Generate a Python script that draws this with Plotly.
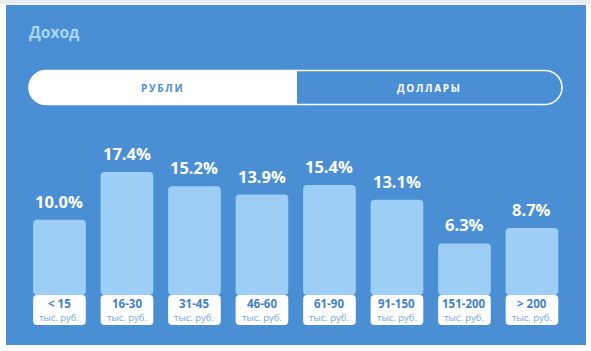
import plotly.graph_objects as go

# ---- data ----
categories = ["< 15", "16-30", "31-45", "46-60", "61-90", "91-150", "151-200", "> 200"]
unit_label = "тыс. руб."
values = [10.0, 17.4, 15.2, 13.9, 15.4, 13.1, 6.3, 8.7]
title_text = "Доход"
toggle_labels = ["РУБЛИ", "ДОЛЛАРЫ"]

# ---- style ----
W, H = 591, 351
PANEL = "#4a8fd3"
BAR = "#9dcff6"
LABEL_BOLD = "#3f82c8"
LABEL_LIGHT = "#72a9de"
TITLE_C = "#a9d5f7"
FONT = "Open Sans"

bar_base = -1.71      # where light bar meets white label
label_depth = 4.67    # depth of white label box (data units)

xs = list(range(len(categories)))

fig = go.Figure()

# light blue bars
fig.add_trace(go.Bar(
    x=xs, y=[v - bar_base for v in values], base=[bar_base] * len(values),
    marker=dict(color=BAR, line=dict(width=0), cornerradius=4),
    width=0.78, hoverinfo="skip", showlegend=False,
))
# white label boxes (negative direction so the rounded end is at the bottom)
fig.add_trace(go.Bar(
    x=xs, y=[-label_depth] * len(values), base=[bar_base] * len(values),
    marker=dict(color="white", line=dict(width=0), cornerradius=4),
    width=0.78, hoverinfo="skip", showlegend=False,
))

def esc(s):
    return s.replace("&", "&amp;").replace("<", "&lt;").replace(">", "&gt;")

annotations = []
mid = bar_base - label_depth / 2
for x, c, v in zip(xs, categories, values):
    annotations.append(dict(
        x=x, y=v, xref="x", yref="y", text=f"<b>{v:.1f}%</b>", showarrow=False,
        yanchor="bottom", yshift=5,
        font=dict(family=FONT, size=16.5, color="white", weight=800),
    ))
    annotations.append(dict(
        x=x, y=mid, xref="x", yref="y", text=f"<b>{esc(c)}</b>",
        showarrow=False, yanchor="middle", xanchor="center", yshift=6.5,
        font=dict(family=FONT, size=11.5, color=LABEL_BOLD, weight=800),
    ))
    annotations.append(dict(
        x=x, y=mid, xref="x", yref="y", text=unit_label,
        showarrow=False, yanchor="middle", xanchor="center", yshift=-7,
        font=dict(family=FONT, size=9.5, color=LABEL_LIGHT),
    ))

def px(x):
    return x / W

def py(y):
    return 1 - y / H

# title
annotations.append(dict(
    x=px(27), y=py(32), xref="paper", yref="paper", xanchor="left", yanchor="middle",
    text=f"<b>{title_text}</b>", showarrow=False,
    font=dict(family=FONT, size=15.5, color=TITLE_C, weight=800),
))

def spaced(s):
    return "\u2009".join(s)

annotations.append(dict(
    x=px(161.5), y=py(87.5), xref="paper", yref="paper", xanchor="center", yanchor="middle",
    text=f"<b>{spaced(toggle_labels[0])}</b>", showarrow=False,
    font=dict(family=FONT, size=10, color=PANEL, weight=800),
))
annotations.append(dict(
    x=px(428.5), y=py(87.5), xref="paper", yref="paper", xanchor="center", yanchor="middle",
    text=f"<b>{spaced(toggle_labels[1])}</b>", showarrow=False,
    font=dict(family=FONT, size=10, color="white", weight=800),
))

# shapes in pixel coordinates via hidden overlay axes x2/y2
K = 0.5523
def pill_left(x0, x1, y0, y1):
    r = (y1 - y0) / 2
    cx = x0 + r
    cy = y0 + r
    return (f"M {x1},{y0} L {cx},{y0} "
            f"C {cx - K*r},{y0} {x0},{cy - K*r} {x0},{cy} "
            f"C {x0},{cy + K*r} {cx - K*r},{y1} {cx},{y1} "
            f"L {x1},{y1} Z")

def pill_full(x0, x1, y0, y1):
    r = (y1 - y0) / 2
    cl = x0 + r
    cr = x1 - r
    cy = y0 + r
    return (f"M {cl},{y0} L {cr},{y0} "
            f"C {cr + K*r},{y0} {x1},{cy - K*r} {x1},{cy} "
            f"C {x1},{cy + K*r} {cr + K*r},{y1} {cr},{y1} "
            f"L {cl},{y1} "
            f"C {cl - K*r},{y1} {x0},{cy + K*r} {x0},{cy} "
            f"C {x0},{cy - K*r} {cl - K*r},{y0} {cl},{y0} Z")

shapes = [
    dict(type="rect", xref="x2", yref="y2", x0=0, x1=W, y0=0, y1=4,
         fillcolor="#e9edf1", line=dict(width=0), layer="below"),
    dict(type="rect", xref="x2", yref="y2", x0=6, x1=586, y0=5, y1=345,
         fillcolor=PANEL, line=dict(width=0), layer="below"),
    dict(type="path", xref="x2", yref="y2", path=pill_full(29, 562, 70.5, 104.5),
         fillcolor="rgba(0,0,0,0)", line=dict(color="white", width=1.6), layer="below"),
    dict(type="path", xref="x2", yref="y2", path=pill_left(29, 297, 70, 105),
         fillcolor="white", line=dict(width=0), layer="below"),
]

# scale: zero at pixel 284, 6.43 px per unit
y_lo = -(H - 284) / 6.43
y_hi = y_lo + H / 6.43
x_lo = -0.881
x_hi = x_lo + W / 67.5

fig.update_layout(
    width=W, height=H,
    margin=dict(l=0, r=0, t=0, b=0),
    paper_bgcolor="white", plot_bgcolor="rgba(0,0,0,0)",
    xaxis=dict(range=[x_lo, x_hi], visible=False, fixedrange=True),
    yaxis=dict(range=[y_lo, y_hi], visible=False, fixedrange=True),
    xaxis2=dict(range=[0, W], visible=False, overlaying="x", fixedrange=True),
    yaxis2=dict(range=[H, 0], visible=False, overlaying="y", fixedrange=True),
    shapes=shapes, annotations=annotations,
    barmode="overlay", showlegend=False,
)
# dummy trace so the overlay axes exist
fig.add_trace(go.Scatter(x=[None], y=[None], xaxis="x2", yaxis="y2", showlegend=False, hoverinfo="skip"))

fig.write_html("out.html")
